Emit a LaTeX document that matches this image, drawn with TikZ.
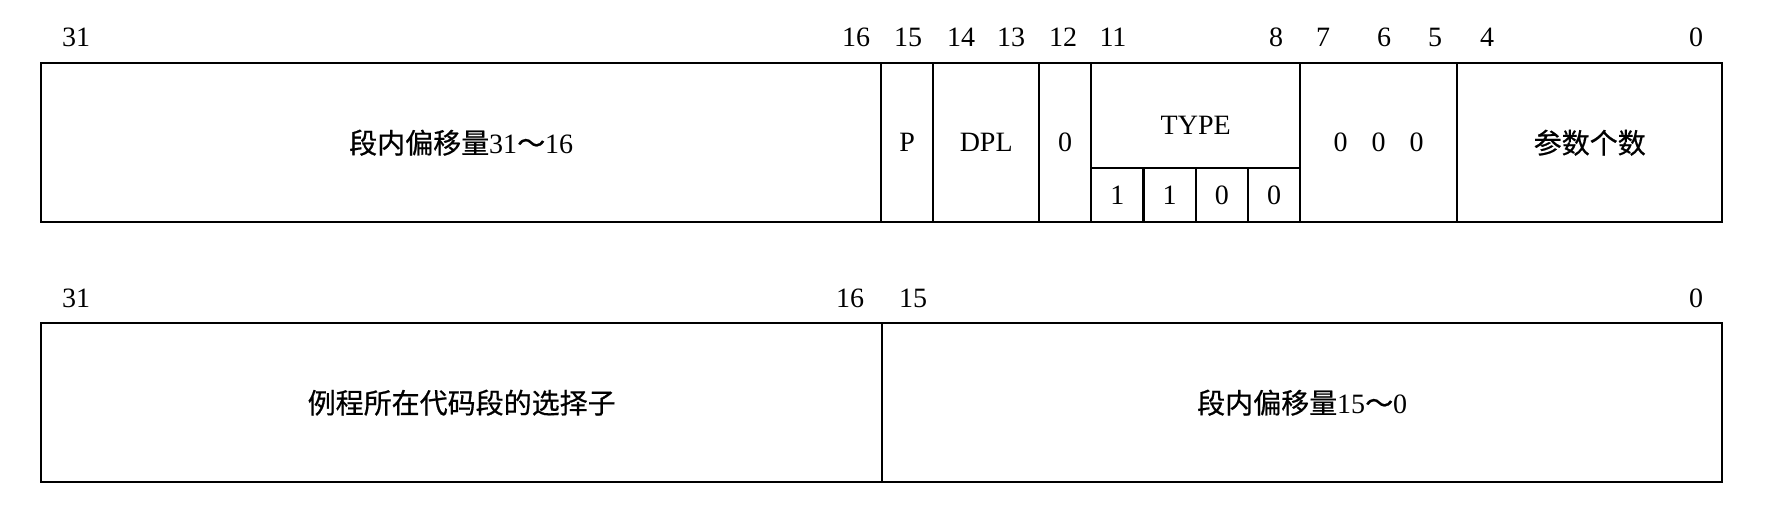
\documentclass[tikz,border=0pt]{standalone}
\usepackage{fontspec}
\setmainfont{Liberation Serif}
\newfontfamily\cjk[FakeBold=0.6]{Noto Sans CJK SC}
\begin{document}
\begin{tikzpicture}[x=0.5pt,y=-0.5pt,
  field/.style={draw,line width=1.2pt,rectangle,inner sep=0pt,anchor=north west,font=\fontsize{14pt}{16pt}\selectfont},
  bitlbl/.style={inner sep=0pt,font=\fontsize{14pt}{16pt}\selectfont}]
\useasboundingbox (0,0) rectangle (1769,513);
% top row
\node[field,minimum width=420pt,minimum height=79.5pt] (off1) at (40,62) {{\cjk 段内偏移量}31{\cjk ～}16};
\node[field,minimum width=26pt,minimum height=79.5pt] (p) at (880,62) {P};
\node[field,minimum width=53pt,minimum height=79.5pt] (dpl) at (932,62) {DPL};
\node[field,minimum width=26pt,minimum height=79.5pt] (z12) at (1038,62) {0};
\node[field,minimum width=104.5pt,minimum height=52.5pt] (type) at (1090,62) {\raisebox{-9.2pt}[0pt][0pt]{TYPE}};
\node[field,minimum width=26.125pt,minimum height=27pt] (t1) at (1090,167) {1};
\node[field,minimum width=26.125pt,minimum height=27pt] (t2) at (1142.25,167) {1};
\node[field,minimum width=26.125pt,minimum height=27pt] (t3) at (1194.5,167) {0};
\node[field,minimum width=26.125pt,minimum height=27pt] (t4) at (1246.75,167) {0};
\node[field,minimum width=78.5pt,minimum height=79.5pt] (zeros) at (1299,62) {0\hspace{12pt}0\hspace{12pt}0};
\node[field,minimum width=132.5pt,minimum height=79.5pt] (params) at (1456,62) {\cjk 参数个数};
% top labels
\node[bitlbl] (a31) at (76,37) {31};
\node[bitlbl] (a16) at (856,37) {16};
\node[bitlbl] (a15) at (908,37) {15};
\node[bitlbl] (a14) at (961,37) {14};
\node[bitlbl] (a13) at (1011,37) {13};
\node[bitlbl] (a12) at (1063,37) {12};
\node[bitlbl] (a11) at (1113,37) {11};
\node[bitlbl] (a8) at (1276,37) {8};
\node[bitlbl] (a7) at (1323,37) {7};
\node[bitlbl] (a6) at (1384,37) {6};
\node[bitlbl] (a5) at (1435,37) {5};
\node[bitlbl] (a4) at (1487,37) {4};
\node[bitlbl] (a0) at (1696,37) {0};
% bottom row
\node[field,minimum width=420.5pt,minimum height=79.5pt] (sel) at (40,322) {\cjk 例程所在代码段的选择子};
\node[field,minimum width=420pt,minimum height=79.5pt] (off2) at (881,322) {{\cjk 段内偏移量}15{\cjk ～}0};
\node[bitlbl] (b31) at (76,298) {31};
\node[bitlbl] (b16) at (850,298) {16};
\node[bitlbl] (b15) at (913,298) {15};
\node[bitlbl] (b0) at (1696,298) {0};
\end{tikzpicture}
\end{document}
